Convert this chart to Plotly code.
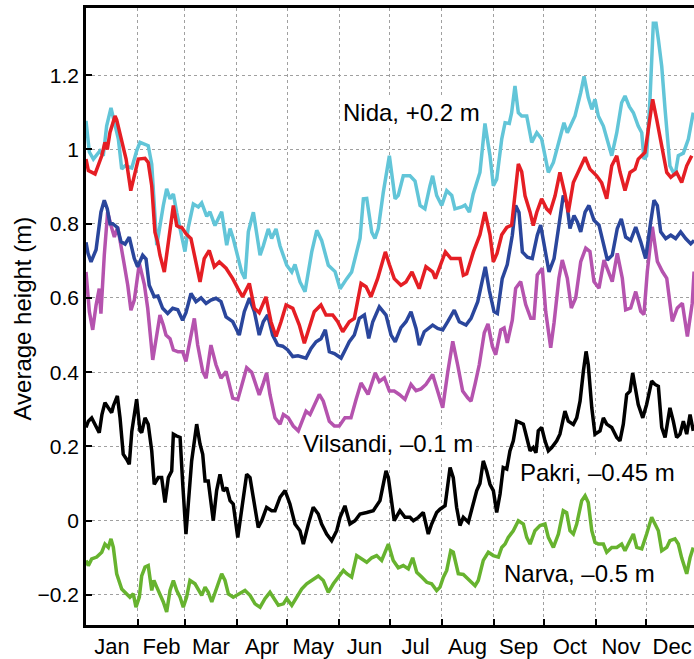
import plotly.graph_objects as go

# Day-of-year positions and average sea level heights (m)
nida_day = [0, 2.0, 4.4, 8.3, 10.3, 12.3, 14.9, 16.3, 19.3, 21.3, 23.3, 27.3, 30.2, 32.2, 37.1, 39.2, 42.2, 46.1, 48.1, 50.1, 52.1, 54.1, 57.1, 59.0, 61.0, 64.0, 67.0, 69.0, 72.0, 73.9, 76.9, 80.9, 83.9, 85.9, 87.8, 92.8, 94.8, 96.8, 99.8, 103.8, 105.7, 108.7, 110.7, 113.3, 115.7, 119.7, 122.7, 124.6, 127.6, 130.6, 134.6, 137.6, 140.5, 144.5, 148.5, 151.5, 155.5, 158.4, 161.4, 163.4, 165.4, 167.4, 170.4, 172.3, 174.3, 177.3, 180.9, 182.3, 184.3, 186.2, 189.2, 193.2, 196.2, 199.2, 202.1, 205.1, 206.7, 209.1, 212.1, 215.1, 218.1, 220.0, 224.0, 226.0, 228.6, 230.9, 234.9, 237.9, 240.9, 242.9, 244.9, 247.9, 249.9, 252.4, 253.8, 255.8, 257.8, 259.8, 262.8, 265.8, 268.8, 271.7, 275.7, 278.7, 282.6, 285.0, 287.0, 291.6, 295.0, 297.0, 299.5, 301.6, 303.5, 305.5, 308.5, 310.5, 313.5, 316.5, 319.4, 321.4, 324.0, 326.4, 329.3, 331.4, 332.7, 334.3, 336.3, 338.3, 339.9, 341.3, 343.3, 345.3, 348.2, 351.2, 353.2, 356.2, 359.2, 362.1]
nida_val = [1.077, 0.993, 0.974, 0.996, 0.983, 1.063, 1.112, 1.086, 1.028, 0.947, 0.956, 0.95, 0.996, 1.019, 1.01, 0.96, 0.742, 0.849, 0.894, 0.867, 0.880, 0.83, 0.760, 0.725, 0.79, 0.853, 0.845, 0.856, 0.82, 0.832, 0.795, 0.832, 0.742, 0.787, 0.76, 0.670, 0.652, 0.778, 0.831, 0.715, 0.74, 0.786, 0.76, 0.786, 0.74, 0.688, 0.67, 0.69, 0.643, 0.617, 0.724, 0.782, 0.755, 0.688, 0.671, 0.625, 0.652, 0.67, 0.724, 0.76, 0.867, 0.868, 0.777, 0.760, 0.787, 0.885, 0.983, 0.94, 0.867, 0.876, 0.929, 0.929, 0.915, 0.849, 0.84, 0.902, 0.929, 0.876, 0.849, 0.889, 0.876, 0.840, 0.845, 0.85, 0.831, 0.88, 0.938, 1.07, 0.983, 0.902, 0.92, 1.028, 1.072, 1.07, 1.099, 1.171, 1.099, 1.09, 1.090, 1.019, 1.045, 1.028, 0.938, 0.965, 1.028, 1.072, 1.045, 1.090, 1.153, 1.197, 1.14, 1.108, 1.135, 1.09, 1.063, 1.028, 0.983, 1.045, 1.126, 1.144, 1.115, 1.099, 1.063, 1.045, 0.974, 0.983, 1.135, 1.340, 1.340, 1.296, 1.224, 1.108, 0.956, 0.929, 0.983, 0.99, 1.028, 1.099]

red_day = [0, 1.4, 5.4, 7.9, 9.4, 11.3, 12.7, 14.3, 17.3, 18.3, 21.3, 23.9, 26.7, 29.2, 31.2, 35.2, 37.1, 39.2, 41.1, 42.7, 44.1, 46.7, 49.7, 52.1, 54.1, 55.6, 57.1, 59.6, 62.6, 64.6, 68.0, 70.5, 73.5, 76.5, 79.5, 83.5, 87.5, 90.6, 93.4, 97.4, 100.4, 103.3, 107.3, 110.3, 113.3, 116.3, 119.3, 123.3, 127.2, 130.2, 133.2, 136.1, 140.1, 143.1, 147.1, 150.1, 153.1, 157.0, 160.0, 164.0, 167.0, 169.9, 173.9, 178.5, 180.9, 183.8, 187.8, 190.8, 194.4, 198.7, 202.7, 206.7, 208.3, 210.6, 214.3, 217.6, 221.6, 223.0, 225.0, 227.0, 231.0, 234.9, 237.9, 240.9, 242.9, 245.1, 247.9, 250.9, 253.8, 255.8, 257.8, 259.8, 261.8, 264.8, 266.7, 268.8, 271.7, 274.7, 276.7, 279.7, 282.6, 285.6, 287.6, 290.6, 294.6, 297.6, 300.5, 304.5, 307.5, 310.5, 313.5, 316.5, 318.4, 321.4, 324.4, 327.4, 329.3, 331.4, 333.3, 335.3, 337.9, 340.3, 343.3, 346.3, 348.7, 352.2, 355.2, 358.2, 361.2]
red_val = [0.974, 0.943, 0.934, 0.965, 0.983, 1.019, 1.0, 1.046, 1.090, 1.08, 1.028, 0.974, 0.889, 0.938, 0.974, 0.976, 0.965, 0.902, 0.777, 0.751, 0.715, 0.670, 0.778, 0.849, 0.795, 0.791, 0.79, 0.773, 0.76, 0.715, 0.643, 0.706, 0.728, 0.684, 0.697, 0.68, 0.652, 0.625, 0.603, 0.639, 0.572, 0.56, 0.603, 0.536, 0.496, 0.536, 0.581, 0.572, 0.527, 0.478, 0.518, 0.563, 0.581, 0.554, 0.554, 0.536, 0.509, 0.536, 0.545, 0.639, 0.63, 0.603, 0.652, 0.724, 0.69, 0.652, 0.634, 0.643, 0.670, 0.625, 0.684, 0.67, 0.652, 0.68, 0.724, 0.706, 0.706, 0.706, 0.661, 0.665, 0.724, 0.77, 0.831, 0.77, 0.697, 0.72, 0.770, 0.79, 0.796, 0.875, 0.961, 0.94, 0.875, 0.831, 0.795, 0.831, 0.867, 0.84, 0.831, 0.875, 0.938, 0.88, 0.831, 0.911, 0.947, 0.979, 0.947, 0.929, 0.91, 0.867, 0.956, 0.983, 0.94, 0.889, 0.938, 0.947, 0.974, 0.983, 0.992, 1.054, 1.135, 1.081, 1.01, 0.938, 0.925, 0.938, 0.911, 0.956, 0.983]

blue_day = [0, 1.2, 3.0, 6.0, 8.9, 10.9, 12.7, 14.3, 15.9, 18.7, 20.9, 23.3, 25.8, 28.8, 30.8, 33.8, 35.8, 37.7, 40.7, 42.9, 45.7, 48.7, 51.7, 54.7, 57.6, 59.6, 62.6, 65.6, 68.6, 71.6, 74.5, 77.5, 80.5, 83.5, 87.5, 91.4, 94.4, 97.4, 100.4, 103.3, 105.7, 108.3, 111.3, 114.3, 117.3, 120.3, 123.3, 126.4, 131.2, 134.2, 137.2, 140.1, 142.7, 145.1, 148.1, 152.1, 155.0, 157.0, 160.0, 163.0, 166.0, 168.6, 171.0, 174.9, 178.9, 181.9, 184.4, 187.8, 190.8, 193.8, 196.8, 198.7, 201.7, 206.7, 209.7, 212.7, 215.7, 219.6, 222.6, 226.6, 229.6, 233.6, 235.5, 238.1, 240.5, 243.3, 245.3, 248.2, 251.2, 254.2, 256.2, 258.2, 260.2, 263.2, 266.1, 269.1, 271.1, 273.1, 276.1, 279.1, 282.0, 284.6, 286.6, 288.6, 291.0, 293.0, 295.0, 297.6, 299.9, 302.9, 305.9, 308.9, 310.9, 313.8, 316.8, 319.2, 321.8, 324.8, 327.8, 330.8, 333.7, 336.7, 338.7, 340.7, 342.7, 345.7, 348.7, 351.6, 354.6, 357.6, 360.6, 362.6]
blue_val = [0.750, 0.72, 0.697, 0.73, 0.831, 0.863, 0.84, 0.8, 0.8, 0.79, 0.751, 0.745, 0.764, 0.706, 0.684, 0.715, 0.705, 0.634, 0.603, 0.605, 0.572, 0.558, 0.572, 0.568, 0.540, 0.56, 0.612, 0.59, 0.6, 0.585, 0.594, 0.599, 0.59, 0.549, 0.536, 0.500, 0.563, 0.599, 0.563, 0.500, 0.536, 0.554, 0.5, 0.473, 0.47, 0.46, 0.442, 0.444, 0.438, 0.464, 0.482, 0.49, 0.514, 0.455, 0.45, 0.438, 0.464, 0.482, 0.5, 0.545, 0.554, 0.491, 0.536, 0.576, 0.554, 0.5, 0.482, 0.52, 0.536, 0.563, 0.518, 0.473, 0.509, 0.527, 0.518, 0.514, 0.536, 0.567, 0.536, 0.527, 0.545, 0.59, 0.63, 0.684, 0.62, 0.563, 0.558, 0.652, 0.69, 0.769, 0.849, 0.83, 0.724, 0.71, 0.706, 0.769, 0.796, 0.742, 0.670, 0.706, 0.791, 0.876, 0.858, 0.787, 0.822, 0.805, 0.778, 0.831, 0.849, 0.809, 0.796, 0.742, 0.702, 0.715, 0.787, 0.813, 0.764, 0.755, 0.791, 0.751, 0.706, 0.804, 0.863, 0.849, 0.778, 0.76, 0.769, 0.76, 0.778, 0.76, 0.746, 0.755]

vilsandi_day = [0, 2.0, 4.0, 6.0, 7.9, 8.9, 10.9, 12.9, 14.9, 16.9, 18.9, 20.9, 22.8, 24.9, 26.8, 28.8, 31.8, 34.8, 36.8, 39.8, 41.7, 44.1, 46.1, 47.7, 50.1, 52.1, 54.9, 57.6, 59.6, 62.6, 64.6, 66.6, 69.6, 71.6, 74.5, 77.5, 80.5, 83.5, 87.5, 90.5, 93.4, 95.8, 98.8, 101.4, 103.3, 105.7, 107.7, 109.7, 112.7, 115.7, 117.7, 120.6, 123.6, 126.6, 129.6, 131.2, 133.6, 136.6, 139.1, 141.5, 145.1, 148.1, 151.0, 154.4, 158.0, 161.0, 164.0, 168.2, 172.5, 174.9, 177.9, 180.9, 183.8, 186.8, 190.2, 193.8, 196.8, 199.8, 202.7, 206.7, 209.7, 212.7, 215.7, 218.7, 221.6, 224.6, 227.6, 229.6, 232.1, 234.5, 237.5, 239.7, 242.3, 244.3, 247.3, 249.3, 251.2, 254.2, 256.2, 259.2, 262.2, 265.2, 267.1, 269.1, 272.1, 274.1, 277.1, 279.1, 282.0, 284.0, 287.0, 289.4, 292.0, 295.0, 298.0, 300.5, 302.9, 305.9, 308.9, 311.9, 313.8, 316.8, 319.8, 321.8, 324.8, 327.8, 330.8, 332.7, 334.7, 337.7, 340.7, 343.7, 346.3, 349.6, 352.6, 355.6, 358.6, 361.5, 362.6]
vilsandi_val = [0.670, 0.563, 0.514, 0.58, 0.625, 0.558, 0.715, 0.831, 0.795, 0.764, 0.791, 0.733, 0.69, 0.634, 0.567, 0.594, 0.693, 0.636, 0.572, 0.433, 0.49, 0.554, 0.527, 0.500, 0.49, 0.460, 0.455, 0.455, 0.429, 0.5, 0.545, 0.473, 0.402, 0.384, 0.473, 0.42, 0.384, 0.402, 0.330, 0.326, 0.375, 0.412, 0.40, 0.36, 0.339, 0.37, 0.398, 0.34, 0.277, 0.26, 0.286, 0.277, 0.255, 0.242, 0.277, 0.295, 0.286, 0.313, 0.34, 0.322, 0.268, 0.255, 0.255, 0.277, 0.277, 0.326, 0.371, 0.34, 0.398, 0.375, 0.385, 0.349, 0.349, 0.34, 0.327, 0.367, 0.35, 0.355, 0.367, 0.394, 0.349, 0.304, 0.40, 0.483, 0.42, 0.349, 0.331, 0.322, 0.37, 0.42, 0.506, 0.53, 0.47, 0.447, 0.514, 0.519, 0.479, 0.54, 0.626, 0.644, 0.582, 0.545, 0.545, 0.662, 0.68, 0.564, 0.466, 0.533, 0.653, 0.702, 0.653, 0.573, 0.6, 0.698, 0.734, 0.725, 0.644, 0.626, 0.702, 0.67, 0.644, 0.72, 0.653, 0.568, 0.573, 0.617, 0.564, 0.555, 0.671, 0.792, 0.698, 0.671, 0.653, 0.537, 0.573, 0.586, 0.496, 0.586, 0.671]

pakri_day = [0, 1.4, 3.4, 5.4, 7.9, 9.5, 11.3, 13.3, 15.3, 16.3, 18.7, 20.3, 22.2, 24.3, 25.8, 27.3, 28.2, 30.2, 32.2, 33.2, 35.2, 37.1, 39.2, 40.7, 43.1, 45.1, 47.1, 49.1, 51.1, 52.1, 54.1, 56.1, 57.7, 59.6, 61.0, 63.0, 66.0, 68.0, 69.6, 71.0, 72.9, 75.9, 77.9, 79.9, 81.9, 83.9, 85.9, 87.8, 90.5, 92.8, 95.8, 97.8, 99.8, 102.7, 104.8, 107.7, 110.7, 112.7, 115.7, 118.7, 121.6, 124.6, 127.6, 129.6, 132.6, 135.5, 138.5, 140.5, 143.5, 146.5, 149.5, 151.5, 154.4, 157.4, 160.4, 163.4, 167.4, 171.3, 175.3, 177.3, 178.9, 180.3, 182.3, 183.8, 187.2, 190.2, 193.2, 195.2, 198.2, 201.1, 204.1, 206.1, 209.1, 211.1, 214.1, 217.1, 219.0, 221.0, 223.0, 225.0, 228.0, 231.0, 233.0, 234.9, 236.9, 238.9, 240.9, 242.9, 244.9, 246.9, 248.8, 250.9, 252.8, 254.8, 256.8, 258.8, 260.8, 262.8, 264.8, 266.7, 268.3, 269.7, 271.7, 273.7, 275.7, 277.7, 280.7, 282.6, 285.6, 287.6, 290.6, 292.6, 294.6, 296.6, 298.2, 299.5, 301.6, 303.5, 306.5, 308.5, 310.5, 313.5, 316.5, 318.4, 320.4, 322.4, 324.4, 326.0, 327.4, 329.3, 332.0, 334.3, 337.3, 339.3, 341.3, 343.3, 345.3, 348.2, 350.2, 352.2, 354.2, 356.2, 358.2, 360.2, 362.1]
pakri_val = [0.251, 0.268, 0.277, 0.26, 0.237, 0.286, 0.318, 0.304, 0.291, 0.309, 0.336, 0.277, 0.179, 0.165, 0.152, 0.24, 0.268, 0.327, 0.242, 0.237, 0.277, 0.26, 0.188, 0.098, 0.116, 0.116, 0.049, 0.116, 0.134, 0.233, 0.228, 0.224, 0.098, -0.036, 0.045, 0.161, 0.26, 0.206, 0.179, 0.107, 0.107, 0.0, 0.081, 0.125, 0.08, 0.089, 0.054, 0.045, -0.045, 0.03, 0.125, 0.116, 0.063, -0.018, 0.0, 0.036, 0.027, 0.027, 0.063, 0.081, 0.045, -0.009, -0.027, -0.063, -0.009, 0.036, 0.018, -0.009, -0.036, -0.054, -0.027, 0.009, 0.040, -0.009, 0.0, 0.018, 0.022, 0.027, 0.054, 0.098, 0.134, 0.116, 0.054, 0.0, 0.027, 0.009, 0.009, 0.0, 0.009, 0.022, -0.036, -0.009, 0.022, 0.031, 0.040, 0.143, 0.116, 0.036, -0.013, 0.009, -0.004, 0.05, 0.081, 0.1, 0.161, 0.134, 0.098, 0.081, 0.022, 0.072, 0.143, 0.139, 0.188, 0.215, 0.268, 0.264, 0.26, 0.224, 0.188, 0.197, 0.183, 0.242, 0.251, 0.215, 0.188, 0.197, 0.215, 0.233, 0.295, 0.268, 0.259, 0.277, 0.322, 0.403, 0.456, 0.42, 0.304, 0.233, 0.242, 0.277, 0.26, 0.251, 0.224, 0.215, 0.26, 0.34, 0.349, 0.398, 0.358, 0.313, 0.277, 0.313, 0.376, 0.367, 0.362, 0.251, 0.224, 0.304, 0.268, 0.224, 0.233, 0.268, 0.233, 0.286, 0.242]

narva_day = [0, 1.4, 3.4, 6.4, 9.4, 11.3, 13.3, 14.9, 16.3, 18.3, 21.3, 24.3, 26.2, 28.2, 29.8, 31.8, 33.2, 35.2, 37.1, 39.2, 40.5, 42.2, 44.1, 46.1, 48.1, 50.1, 52.1, 54.1, 56.1, 58.0, 60.0, 62.0, 65.0, 67.0, 69.0, 71.0, 72.9, 75.0, 77.9, 80.9, 82.9, 84.9, 87.8, 91.8, 94.8, 97.8, 100.8, 103.8, 106.7, 109.7, 111.7, 114.7, 117.7, 119.7, 122.7, 125.6, 128.6, 131.6, 134.6, 138.5, 141.5, 144.5, 147.5, 150.5, 153.5, 155.5, 158.4, 161.4, 164.4, 167.4, 170.4, 173.3, 176.3, 180.3, 183.2, 186.2, 189.2, 192.2, 194.8, 197.2, 200.2, 203.2, 206.1, 209.1, 211.1, 213.1, 215.1, 217.5, 219.0, 222.0, 225.0, 229.0, 232.0, 233.9, 235.9, 236.9, 239.9, 242.9, 245.9, 247.9, 249.9, 251.8, 254.8, 257.8, 260.8, 262.8, 264.8, 267.7, 270.7, 273.7, 275.7, 278.7, 281.7, 284.6, 286.6, 288.6, 290.6, 292.6, 295.6, 297.6, 299.5, 301.6, 303.5, 305.5, 308.5, 310.5, 313.5, 316.5, 319.4, 321.4, 323.4, 326.4, 328.4, 331.4, 334.3, 337.3, 339.3, 341.3, 343.3, 346.3, 348.2, 351.2, 353.2, 355.2, 358.2, 360.2, 362.1]
narva_val = [-0.107, -0.121, -0.103, -0.098, -0.085, -0.063, -0.072, -0.049, -0.072, -0.143, -0.184, -0.197, -0.206, -0.197, -0.233, -0.206, -0.149, -0.125, -0.121, -0.188, -0.161, -0.179, -0.197, -0.219, -0.246, -0.188, -0.161, -0.188, -0.206, -0.233, -0.206, -0.161, -0.17, -0.188, -0.201, -0.179, -0.193, -0.219, -0.179, -0.143, -0.161, -0.197, -0.206, -0.197, -0.188, -0.201, -0.224, -0.233, -0.21, -0.193, -0.206, -0.228, -0.224, -0.21, -0.228, -0.206, -0.184, -0.17, -0.161, -0.149, -0.161, -0.193, -0.17, -0.152, -0.134, -0.143, -0.152, -0.094, -0.103, -0.112, -0.1, -0.094, -0.107, -0.063, -0.107, -0.127, -0.121, -0.13, -0.1, -0.139, -0.152, -0.166, -0.17, -0.188, -0.179, -0.152, -0.134, -0.081, -0.085, -0.143, -0.145, -0.161, -0.175, -0.161, -0.125, -0.107, -0.085, -0.094, -0.098, -0.072, -0.063, -0.045, -0.027, 0.0, -0.009, -0.045, -0.063, -0.027, -0.013, -0.009, -0.045, -0.072, -0.036, 0.027, 0.022, -0.027, -0.036, -0.009, 0.054, 0.067, 0.049, -0.027, -0.058, -0.063, -0.063, -0.085, -0.072, -0.072, -0.063, -0.081, -0.063, -0.036, -0.072, -0.076, -0.036, 0.009, -0.009, -0.027, -0.081, -0.072, -0.054, -0.049, -0.063, -0.1, -0.143, -0.1, -0.072]

month_names = ["Jan", "Feb", "Mar", "Apr", "May", "Jun", "Jul", "Aug", "Sep", "Oct", "Nov", "Dec"]
month_starts = [0, 31, 59, 90, 120, 151, 181, 212, 243, 273, 304, 334, 365]
y_ticks = [-0.2, 0, 0.2, 0.4, 0.6, 0.8, 1.0, 1.2]
y_tick_text = ["\u22120.2", "0", "0.2", "0.4", "0.6", "0.8", "1", "1.2"]

labels = [
    ("Nida, +0.2 m", 193.8, 1.100),
    ("Vilsandi, \u20130.1 m", 180.1, 0.208),
    ("Pakri, \u20130.45 m", 305.3, 0.129),
    ("Narva, \u20130.5 m", 294.0, -0.143),
]

series = [
    (nida_day, nida_val, "#62C5D8"),
    (vilsandi_day, vilsandi_val, "#B553AE"),
    (blue_day, blue_val, "#2A469C"),
    (red_day, red_val, "#E51E24"),
    (pakri_day, pakri_val, "#000000"),
    (narva_day, narva_val, "#67B32F"),
]

fig = go.Figure()
for d, v, c in series:
    fig.add_trace(go.Scatter(x=d, y=v, mode="lines",
                             line=dict(color=c, width=3.5), showlegend=False,
                             hoverinfo="skip"))

mids = [(month_starts[i] + month_starts[i + 1]) / 2 for i in range(12)]

fig.update_layout(
    width=694, height=659,
    margin=dict(l=86, r=0, t=8, b=31),
    paper_bgcolor="white", plot_bgcolor="white",
    font=dict(family="Liberation Sans, Arial, sans-serif", color="black", size=20),
)

fig.update_xaxes(
    range=[0, 362.55], tickmode="array", tickvals=mids, ticktext=month_names,
    ticks="", showgrid=False, zeroline=False,
    showline=True, linecolor="black", linewidth=2.5, mirror=True,
    tickfont=dict(size=22),
    minor=dict(tickmode="array", tickvals=month_starts[1:12], ticks="inside",
               ticklen=6, tickwidth=2, tickcolor="black",
               showgrid=True, gridcolor="#a0a0a0", gridwidth=1, griddash="dot"),
)
fig.update_yaxes(
    range=[-0.281, 1.381], tickmode="array", tickvals=y_ticks, ticktext=y_tick_text,
    ticks="inside", ticklen=6, tickwidth=2, tickcolor="black",
    showgrid=True, gridcolor="#a0a0a0", gridwidth=1, griddash="dot",
    zeroline=False, showline=True, linecolor="black", linewidth=2.5,
    tickfont=dict(size=21),
)

# y-axis title placed to match the reference position
fig.add_annotation(xref="paper", yref="paper", x=-0.105, y=0.497,
                   text="Average height (m)", textangle=-90, showarrow=False,
                   font=dict(size=24, color="black"), xanchor="center", yanchor="middle")

for text, x, y in labels:
    fig.add_annotation(x=x, y=y, text=text, showarrow=False,
                       font=dict(size=24, color="black"),
                       bgcolor="white", borderpad=1)

fig.write_html("out.html")
